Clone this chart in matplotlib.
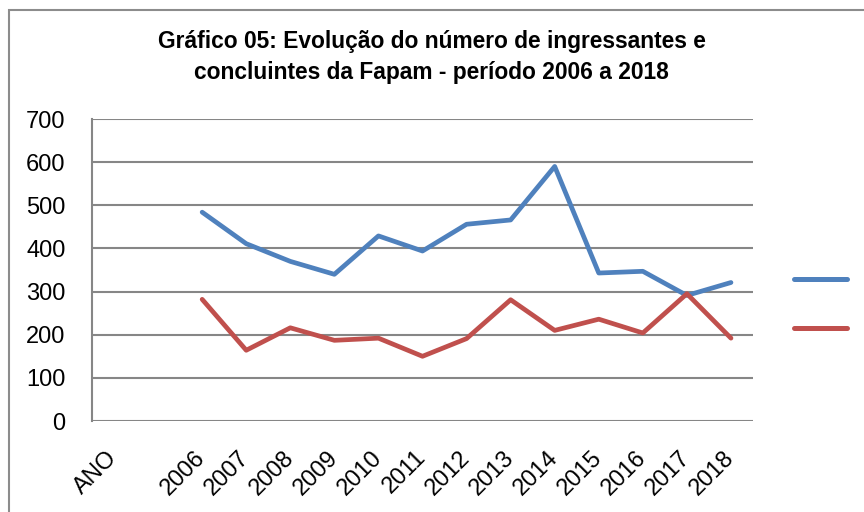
import matplotlib
matplotlib.use("Agg")
import matplotlib.pyplot as plt
import numpy as np
from matplotlib.patches import Rectangle

plt.rcParams['font.family'] = ['Liberation Sans', 'DejaVu Sans']

categories = ["ANO", ""] + ["2006", "2007", "2008", "2009", "2010", "2011", "2012",
                            "2013", "2014", "2015", "2016", "2017", "2018"]
years = ["2006", "2007", "2008", "2009", "2010", "2011", "2012",
         "2013", "2014", "2015", "2016", "2017", "2018"]
ingressantes = [484, 411, 370, 340, 429, 394, 456, 466, 590, 343, 347, 291, 321]
concluintes = [282, 164, 216, 187, 192, 150, 191, 281, 210, 236, 204, 295, 192]
series_labels = ["", ""]
title = "Gráfico 05: Evolução do número de ingressantes e\nconcluintes da Fapam - período 2006 a 2018"

blue = "#4F81BD"
red = "#C0504D"
grid = "#868686"

fig = plt.figure(figsize=(8.64, 5.12), dpi=100)
ax = fig.add_axes([92/864, 1-421/512, (753-92)/864, (421-119)/512])

x_all = np.arange(len(categories))
x_years = x_all[categories.index(years[0]):]
l1, = ax.plot(x_years, ingressantes, color=blue, lw=3.4, solid_capstyle='round', solid_joinstyle='round')
l2, = ax.plot(x_years, concluintes, color=red, lw=3.4, solid_capstyle='round', solid_joinstyle='round')

ax.set_xlim(-0.5, len(categories) - 0.5)
ax.set_ylim(0, 700)
ax.set_yticks(np.arange(0, 701, 100))
ax.yaxis.grid(True, color=grid, lw=1.5)
ax.set_axisbelow(True)
for s in ["top", "right", "bottom"]:
    ax.spines[s].set_visible(False)
ax.spines["left"].set_color(grid)
ax.spines["left"].set_linewidth(1.5)
ax.tick_params(axis='both', length=0, labelsize=17)
ax.tick_params(axis='y', pad=19)
ax.set_xticks(x_all)
ax.set_xticklabels(categories, rotation=45, ha='right', va='center', rotation_mode='anchor')
for lab in ax.get_xticklabels():
    lab.set_fontsize(17)
ax.tick_params(axis='x', pad=24)

fig.text(0.4995, 1 - 57/512, title, ha='center', va='center', fontsize=16.4, fontweight='bold',
         linespacing=1.45)

leg = fig.legend([l1, l2], series_labels, loc='upper left', bbox_to_anchor=(783/864, 1-260/512),
                 frameon=False, handlelength=2.4, fontsize=16, labelspacing=1.23,
                 borderpad=0, handletextpad=0)
for h in leg.legend_handles:
    h.set_linewidth(3.6)

fig.patches.append(Rectangle((9/864, -0.1), 1.2, 1 - 10/512 + 0.1, transform=fig.transFigure,
                             fill=False, edgecolor="#8c8c8c", lw=1.5))

fig.savefig("out.png", dpi=100)
